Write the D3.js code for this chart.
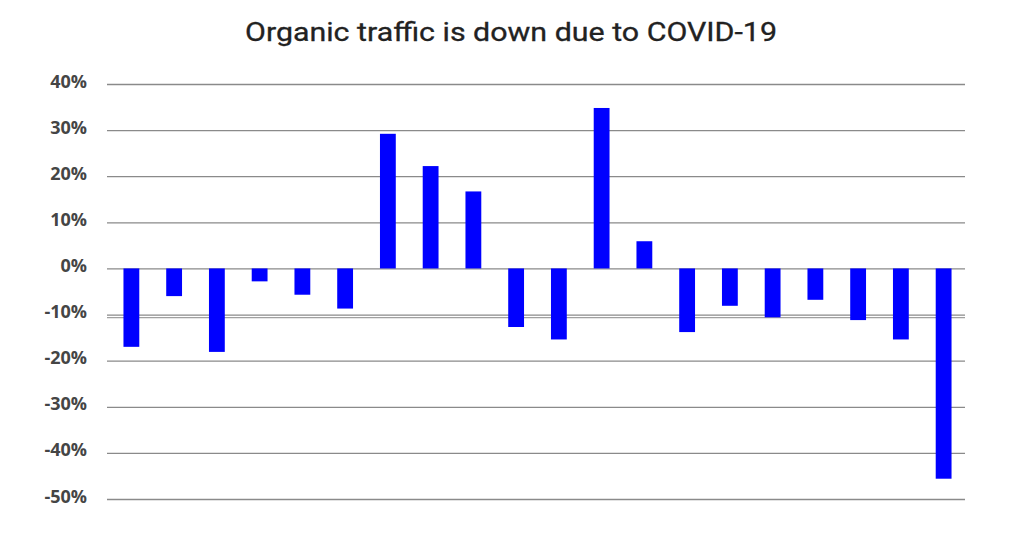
<!DOCTYPE html>
<html>
<head>
<meta charset="utf-8">
<script src="https://cdn.jsdelivr.net/npm/d3@7"></script>
<style>
  html, body { margin: 0; padding: 0; background: #fff; }
  svg { display: block; }
</style>
</head>
<body>
<svg id="chart" width="1024" height="536"></svg>
<script>
// ---- data ----
const categories = d3.range(1, 21).map(i => "P" + i);
const values = [-17.0, -6.0, -18.1, -2.8, -5.7, -8.7, 29.2, 22.2, 16.7, -12.7,
                -15.4, 34.8, 5.9, -13.8, -8.1, -10.6, -6.8, -11.2, -15.4, -45.6];
const yTicks = [40, 30, 20, 10, 0, -10, -20, -30, -40, -50];
const extraGrid = [-10.65];
const chartTitle = "Organic traffic is down due to COVID-19";

// ---- layout ----
const svg = d3.select("#chart");
const plotLeft = 107, plotRight = 965, plotTop = 84, plotBottom = 499;

const x = d3.scaleBand().domain(categories).range([110, plotRight]).paddingInner(0.63).paddingOuter(0.315);
const y = d3.scaleLinear().domain([-50, 40]).range([plotBottom, plotTop]);

svg.append("text")
  .attr("x", 245).attr("y", 41)
  .attr("textLength", 532)
  .attr("lengthAdjust", "spacingAndGlyphs")
  .style("font-family", "Roboto, 'Noto Sans', sans-serif")
  .style("font-weight", 400)
  .style("font-size", "26px")
  .style("fill", "#222")
  .style("stroke", "#222")
  .style("stroke-width", 0.3)
  .text(chartTitle);

const axis = svg.append("g")
  .attr("transform", `translate(${plotLeft},0)`)
  .call(d3.axisLeft(y).tickValues(yTicks).tickSize(-(plotRight - plotLeft)).tickPadding(20)
        .tickFormat(d => d + "%"));
axis.select(".domain").remove();
axis.selectAll(".tick line").attr("stroke", "#8a8a8a").attr("stroke-width", 1.3);
axis.selectAll(".tick text")
  .attr("dy", "0.17em")
  .style("font-family", "'Open Sans', 'Liberation Sans', sans-serif")
  .style("font-weight", "bold")
  .style("font-size", "18px")
  .style("fill", "#454545");

svg.append("g").selectAll("line").data(extraGrid).join("line")
  .attr("x1", plotLeft).attr("x2", plotRight)
  .attr("y1", d => y(d)).attr("y2", d => y(d))
  .attr("stroke", "#a0a0a0").attr("stroke-width", 1.2);

svg.append("g").selectAll("rect").data(values).join("rect")
  .attr("x", (d, i) => x(categories[i]))
  .attr("width", x.bandwidth())
  .attr("y", d => y(Math.max(0, d)))
  .attr("height", d => Math.abs(y(d) - y(0)))
  .attr("fill", "#0000ff");
</script>
</body>
</html>
